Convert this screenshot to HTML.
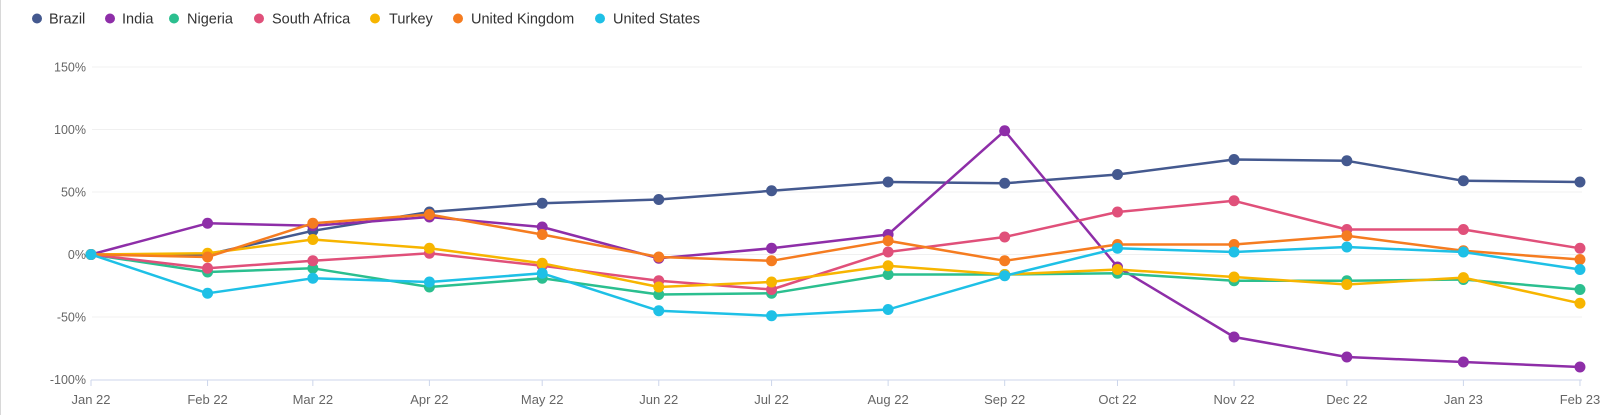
<!DOCTYPE html>
<html><head><meta charset="utf-8">
<style>
html,body{margin:0;padding:0;background:#fff;}
body{width:1600px;height:415px;overflow:hidden;font-family:"Liberation Sans",sans-serif;}
</style></head>
<body>
<svg id="c" width="1600" height="415" xmlns="http://www.w3.org/2000/svg" style="font-family:'Liberation Sans',sans-serif"></svg>
<script>
const svg=document.getElementById('c');
const NS='http://www.w3.org/2000/svg';
function el(t,a,txt){const e=document.createElementNS(NS,t);for(const k in a)e.setAttribute(k,a[k]);if(txt!==undefined)e.textContent=txt;svg.appendChild(e);return e;}
el('rect',{x:0,y:0,width:1600,height:415,fill:'#fff'});
el('line',{x1:0.5,y1:0,x2:0.5,y2:415,stroke:'#d8d8d8','stroke-width':1});
const Y=v=>254.5-v*1.25;
const days=[0,31,59,90,120,151,181,212,243,273,304,334,365,396];
const X=i=>91+days[i]*3.76;
[150,100,50,0,-50].forEach(v=>{el('line',{x1:92,x2:1582,y1:Y(v),y2:Y(v),stroke:'#f0f0f0','stroke-width':1});});
[150,100,50,0,-50,-100].forEach(v=>{el('text',{x:86,y:Y(v)+4.5,'text-anchor':'end','font-size':12.5,fill:'#666'},v+'%');});
el('line',{x1:91,x2:1582,y1:380,y2:380,stroke:'#ccd6eb','stroke-width':1});
const labels=['Jan 22','Feb 22','Mar 22','Apr 22','May 22','Jun 22','Jul 22','Aug 22','Sep 22','Oct 22','Nov 22','Dec 22','Jan 23','Feb 23'];
labels.forEach((l,i)=>{const x=X(i);el('line',{x1:x,x2:x,y1:380,y2:386,stroke:'#ccd6eb','stroke-width':1});
 el('text',{x:x,y:404,'text-anchor':'middle','font-size':13,fill:'#666'},l);});
const series=[
['Brazil','#44598f',[0,0,19,34,41,44,51,58,57,64,76,75,59,58]],
['India','#8e2ea8',[0,25,23,30,22,-3,5,16,99,-10,-66,-82,-86,-90]],
['Nigeria','#2bbf8f',[0,-14,-11,-26,-19,-32,-31,-16,-16,-15,-21,-21,-20,-28]],
['South Africa','#e0507a',[0,-11,-5,1,-9,-21,-28,2,14,34,43,20,20,5]],
['Turkey','#f7b500',[0,1,12,5,-7,-26,-22,-9,-16,-12,-18,-24,-18.5,-39]],
['United Kingdom','#f57c20',[0,-2,25,32,16,-2,-5,11,-5,8,8,15,3,-4]],
['United States','#1ec0e6',[0,-31,-19,-22,-15,-45,-49,-44,-17,5,2,6,2,-12]]
];
series.forEach(s=>{
 const pts=s[2].map((v,i)=>X(i).toFixed(1)+','+Y(v).toFixed(1)).join(' ');
 el('polyline',{points:pts,fill:'none',stroke:s[1],'stroke-width':2.5,'stroke-linejoin':'round'});
 s[2].forEach((v,i)=>el('circle',{cx:X(i),cy:Y(v),r:5.5,fill:s[1]}));
});
const lx=[[37,49],[110,122],[174,187],[259,272],[375,389],[458,471],[600,613]];
series.forEach((s,i)=>{el('circle',{cx:lx[i][0],cy:18.5,r:5,fill:s[1]});
 el('text',{x:lx[i][1],y:23.5,'font-size':14.5,fill:'#333'},s[0]);});
</script>
</body></html>
